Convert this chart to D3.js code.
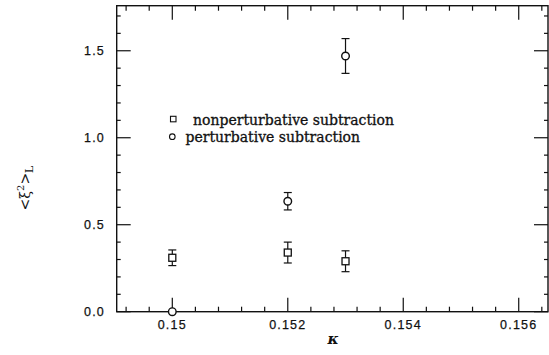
<!DOCTYPE html>
<html>
<head>
<meta charset="utf-8">
<script src="https://cdn.jsdelivr.net/npm/d3@7"></script>
<style>
  body { margin: 0; background: #fff; }
  svg { display: block; }
</style>
</head>
<body>
<div id="chart"></div>
<script>
const kappa = [0.15, 0.152, 0.153]
const nonpert = [0.31, 0.34, 0.29]
const nonpertErr = [0.045, 0.06, 0.06]
const pert = [0.0, 0.635, 1.47]
const pertErr = [0.0, 0.05, 0.10]
const xTicks = [0.15, 0.152, 0.154, 0.156]
const yTicks = [0.0, 0.5, 1.0, 1.5]
const legendLabels = ["nonperturbative subtraction", "perturbative subtraction"]

const width = 549
const height = 355
const plotL = 116.7, plotR = 548, plotT = 5.7, plotB = 311.7

const x = d3.scaleLinear().domain([0.149037, 0.156507]).range([plotL, plotR])
const y = d3.scaleLinear().domain([0, 1.759]).range([plotB, plotT])

const svg = d3.select("#chart")
  .append("svg")
  .attr("width", width)
  .attr("height", height)

const ink = "#111"

// frame
svg.append("rect")
  .attr("x", plotL).attr("y", plotT)
  .attr("width", plotR - plotL).attr("height", plotB - plotT)
  .attr("fill", "none").attr("stroke", ink).attr("stroke-width", 1.4)

// ticks on all four sides
const xMinor = d3.range(0.1492, 0.1565, 0.0004)
const yMinor = d3.range(0, 1.76, 0.1)
const isMajorX = v => xTicks.some(t => Math.abs(t - v) < 1e-6)
const isMajorY = v => yTicks.some(t => Math.abs(t - v) < 1e-6)

const tickG = svg.append("g").attr("stroke", ink).attr("stroke-width", 1.2)

xMinor.forEach(v => {
  const len = isMajorX(v) ? 14 : 5
  tickG.append("line").attr("x1", x(v)).attr("x2", x(v)).attr("y1", plotB).attr("y2", plotB - len)
  tickG.append("line").attr("x1", x(v)).attr("x2", x(v)).attr("y1", plotT).attr("y2", plotT + len)
})
yMinor.forEach(v => {
  const len = isMajorY(v) ? 14 : 4
  tickG.append("line").attr("x1", plotL).attr("x2", plotL + len).attr("y1", y(v)).attr("y2", y(v))
  tickG.append("line").attr("x1", plotR).attr("x2", plotR - len).attr("y1", y(v)).attr("y2", y(v))
})

// tick labels
svg.append("g")
  .selectAll("text")
  .data(xTicks)
  .join("text")
  .attr("x", d => x(d))
  .attr("y", 329)
  .attr("text-anchor", "middle")
  .attr("font-family", "Liberation Sans, Arial, sans-serif")
  .attr("font-size", "12.5px")
  .attr("letter-spacing", "1.2px")
  .attr("fill", ink)
  .attr("stroke", ink).attr("stroke-width", 0.25)
  .text(d => d === 0.15 ? "0.15" : d3.format(".3f")(d))

svg.append("g")
  .selectAll("text")
  .data(yTicks)
  .join("text")
  .attr("x", 105)
  .attr("y", d => y(d) + 4.5)
  .attr("text-anchor", "end")
  .attr("font-family", "Liberation Sans, Arial, sans-serif")
  .attr("font-size", "12.5px")
  .attr("letter-spacing", "1.2px")
  .attr("fill", ink)
  .attr("stroke", ink).attr("stroke-width", 0.25)
  .text(d => d3.format(".1f")(d))

// axis titles
svg.append("text")
  .attr("x", 333).attr("y", 344)
  .attr("text-anchor", "middle")
  .attr("font-family", "DejaVu Serif, serif")
  .attr("font-style", "italic")
  .attr("font-weight", "bold")
  .attr("font-size", "15px")
  .attr("fill", ink)
  .text("κ")

const yl = svg.append("text")
  .attr("transform", "translate(30,188) rotate(-90)")
  .attr("text-anchor", "middle")
  .attr("font-family", "DejaVu Serif, serif")
  .attr("font-size", "14px")
  .attr("fill", ink)
yl.append("tspan").text("<ξ")
yl.append("tspan").attr("dy", -6).attr("font-size", "10px").text("2")
yl.append("tspan").attr("dy", 6).text(">")
yl.append("tspan").attr("dy", 3).attr("font-size", "11px").text("L")

// error bars
function errorBars(vals, errs) {
  const g = svg.append("g").attr("stroke", ink).attr("stroke-width", 1.2)
  kappa.forEach((k, i) => {
    if (!errs[i]) return
    const cx = x(k)
    g.append("line").attr("x1", cx).attr("x2", cx).attr("y1", y(vals[i] - errs[i])).attr("y2", y(vals[i] + errs[i]))
    ;[vals[i] - errs[i], vals[i] + errs[i]].forEach(v => {
      g.append("line").attr("x1", cx - 4).attr("x2", cx + 4).attr("y1", y(v)).attr("y2", y(v))
    })
  })
}
errorBars(nonpert, nonpertErr)
errorBars(pert, pertErr)

// squares
svg.append("g")
  .selectAll("rect")
  .data(kappa.map((k, i) => [k, nonpert[i]]))
  .join("rect")
  .attr("x", d => x(d[0]) - 3.5)
  .attr("y", d => y(d[1]) - 3.5)
  .attr("width", 7).attr("height", 7)
  .attr("fill", "#fff").attr("stroke", ink).attr("stroke-width", 1.3)

// circles
svg.append("g")
  .selectAll("circle")
  .data(kappa.map((k, i) => [k, pert[i]]))
  .join("circle")
  .attr("cx", d => x(d[0]))
  .attr("cy", d => y(d[1]))
  .attr("r", 3.8)
  .attr("fill", "#fff").attr("stroke", ink).attr("stroke-width", 1.4)

// legend
svg.append("rect")
  .attr("x", 170.5).attr("y", 116.3).attr("width", 5.5).attr("height", 5.5)
  .attr("fill", "none").attr("stroke", ink).attr("stroke-width", 1.1)
svg.append("circle")
  .attr("cx", 172.3).attr("cy", 136.7).attr("r", 2.8)
  .attr("fill", "none").attr("stroke", ink).attr("stroke-width", 1.1)

svg.append("g")
  .selectAll("text")
  .data(legendLabels)
  .join("text")
  .attr("x", (d, i) => i === 0 ? 193 : 185.5)
  .attr("y", (d, i) => i === 0 ? 125 : 141.7)
  .attr("font-family", "DejaVu Serif, serif")
  .attr("font-size", "14px")
  .attr("fill", ink)
  .attr("stroke", ink).attr("stroke-width", 0.3)
  .text(d => d)
</script>
</body>
</html>
